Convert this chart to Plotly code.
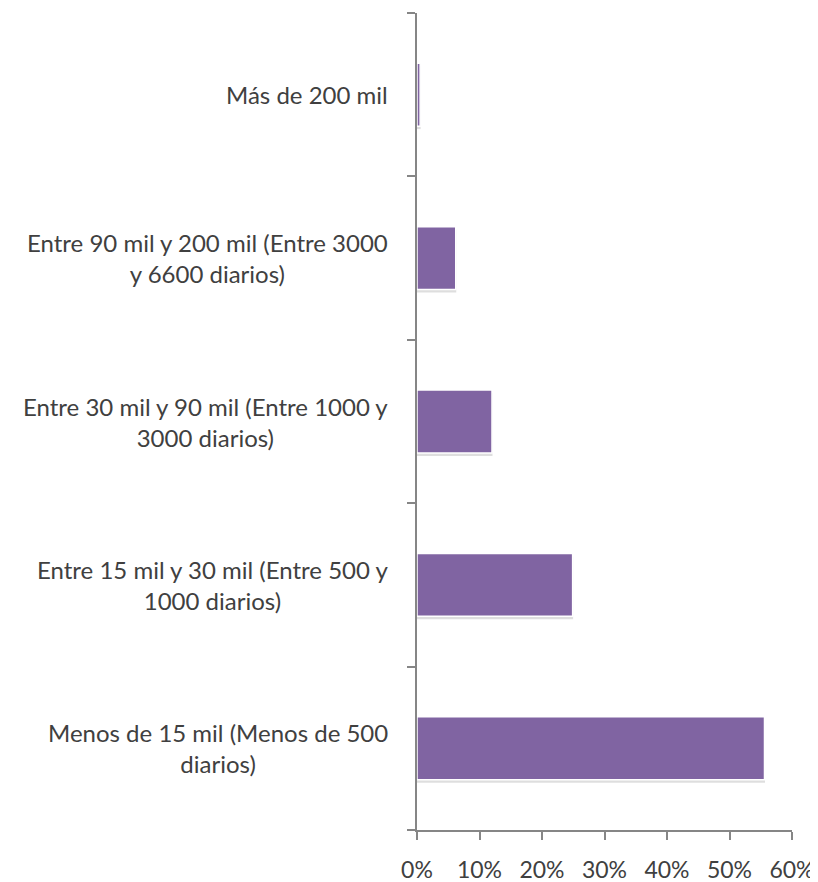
import plotly.graph_objects as go

# Kategorien (von unten nach oben) und Anteile
categorias = [
    "Menos de 15 mil (Menos de 500<br>diarios)",
    "Entre 15 mil y 30 mil (Entre 500 y<br>1000 diarios)",
    "Entre 30 mil y 90 mil (Entre 1000 y<br>3000 diarios)",
    "Entre 90 mil y 200 mil (Entre 3000<br>y 6600 diarios)",
    "Más de 200 mil",
]
valores = [0.556, 0.249, 0.12, 0.062, 0.005]
x_ticks = [0, 0.1, 0.2, 0.3, 0.4, 0.5, 0.6]

FONT = "Lato"
GRIS = "#404040"
EJE = "#868686"
ANCHO = 0.385

fig = go.Figure()
# leichter Schatten unter den Balken
fig.add_trace(go.Bar(
    x=[v + 0.0008 for v in valores],
    y=categorias,
    orientation="h",
    width=ANCHO,
    offset=-ANCHO / 2 - 0.018,
    marker=dict(color="rgba(0,0,0,0.13)", line=dict(width=0)),
    hoverinfo="skip",
))
fig.add_trace(go.Bar(
    x=valores,
    y=categorias,
    orientation="h",
    width=ANCHO,
    offset=-ANCHO / 2,
    marker=dict(color="#8064A2", line=dict(color="white", width=1.5)),
    hoverinfo="x+y",
))

# Beschriftungen links, zentriert wie im Original
for cat in categorias:
    fig.add_annotation(
        x=0, xref="paper", y=cat, yref="y",
        text=cat, showarrow=False,
        xanchor="right", yanchor="middle", xshift=-27,
        align="center",
        font=dict(family=FONT, size=24, color=GRIS),
    )

# die Seite hat 8px Rand, daher Breite/Höhe entsprechend kleiner
fig.update_layout(
    width=810, height=874,
    margin=dict(l=409, r=26, t=5, b=52, autoexpand=False),
    paper_bgcolor="white", plot_bgcolor="white",
    showlegend=False,
    barmode="overlay",
    font=dict(family=FONT, size=23, color=GRIS),
)
fig.update_xaxes(
    range=[0, 0.6], tickvals=x_ticks, tickformat=".0%",
    showgrid=False, zeroline=False, automargin=False,
    showline=True, linecolor=EJE, linewidth=1.5,
    ticks="outside", ticklen=8, tickcolor=EJE, tickwidth=1.5,
    ticklabelstandoff=11,
    tickfont=dict(family=FONT, size=23, color=GRIS),
)
fig.update_yaxes(
    type="category", categoryorder="array", categoryarray=categorias,
    range=[-0.5, 4.5], automargin=False,
    showticklabels=False, showgrid=False, zeroline=False,
    showline=True, linecolor=EJE, linewidth=1.5,
    ticks="outside", tickson="boundaries", ticklen=8,
    tickcolor=EJE, tickwidth=1.5,
)

fig.write_html("out.html")
